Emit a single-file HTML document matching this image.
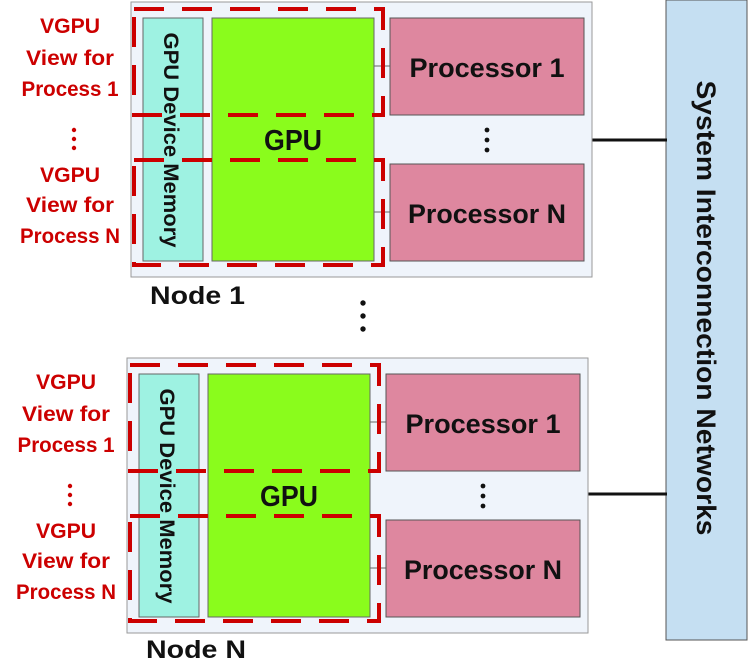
<!DOCTYPE html>
<html><head><style>body{margin:0;background:#fff}</style></head><body>
<svg width="748" height="666" xmlns="http://www.w3.org/2000/svg" font-family="Liberation Sans, sans-serif" font-weight="bold">
<rect x="666" y="0" width="81" height="640" fill="#c5dff2" stroke="#555" stroke-width="1"/>
<text transform="translate(697,308) rotate(90)" text-anchor="middle" font-size="27" fill="#111" textLength="455" lengthAdjust="spacingAndGlyphs">System Interconnection Networks</text>
<line x1="592" y1="140" x2="667" y2="140" stroke="#111" stroke-width="3"/>
<line x1="588" y1="494" x2="667" y2="494" stroke="#111" stroke-width="3"/>
<g id="n1">
<rect x="131" y="2" width="461" height="275" fill="#eff4fb" stroke="#999"/>
<rect x="143" y="18" width="60" height="243" fill="#9ef2e2" stroke="#666"/>
<rect x="212" y="18" width="162" height="243" fill="#8afc1c" stroke="#666"/>
<line x1="374" y1="66" x2="390" y2="66" stroke="#666"/>
<line x1="374" y1="212" x2="390" y2="212" stroke="#666"/>
<rect x="390" y="18" width="194" height="97" fill="#de879f" stroke="#555"/>
<rect x="390" y="164" width="194" height="97" fill="#de879f" stroke="#555"/>
<text x="487" y="77" text-anchor="middle" font-size="27" fill="#111" textLength="155" lengthAdjust="spacingAndGlyphs">Processor 1</text>
<text x="487" y="223" text-anchor="middle" font-size="27" fill="#111" textLength="158" lengthAdjust="spacingAndGlyphs">Processor N</text>
<text x="293" y="150" text-anchor="middle" font-size="29" fill="#111" textLength="58" lengthAdjust="spacingAndGlyphs">GPU</text>
<text transform="translate(164,140) rotate(90)" text-anchor="middle" font-size="21" fill="#111" textLength="215" lengthAdjust="spacingAndGlyphs">GPU Device Memory</text>
<g fill="#111"><circle cx="487" cy="130" r="2.4"/><circle cx="487" cy="140" r="2.4"/><circle cx="487" cy="150" r="2.4"/></g>
<g fill="none" stroke="#cc0000" stroke-width="4" stroke-dasharray="30,18">
<rect x="134" y="9" width="249" height="106"/>
<rect x="134" y="160" width="249" height="105"/>
</g>
<g fill="#cc0000" font-size="21" text-anchor="middle">
<text x="70" y="33" textLength="60" lengthAdjust="spacingAndGlyphs">VGPU</text><text x="70" y="65" textLength="88" lengthAdjust="spacingAndGlyphs">View for</text><text x="70" y="96" textLength="97" lengthAdjust="spacingAndGlyphs">Process 1</text>
<text x="70" y="182" textLength="60" lengthAdjust="spacingAndGlyphs">VGPU</text><text x="70" y="212" textLength="88" lengthAdjust="spacingAndGlyphs">View for</text><text x="70" y="243" textLength="100" lengthAdjust="spacingAndGlyphs">Process N</text>
<circle cx="74" cy="130" r="2.2"/><circle cx="74" cy="139" r="2.2"/><circle cx="74" cy="148" r="2.2"/>
</g>
</g>
<use href="#n1" transform="translate(-4,356)"/>
<text x="150" y="304" font-size="25" fill="#111" textLength="95" lengthAdjust="spacingAndGlyphs">Node 1</text>
<text x="146" y="658" font-size="25" fill="#111" textLength="100" lengthAdjust="spacingAndGlyphs">Node N</text>
<g fill="#111"><circle cx="363" cy="303" r="2.7"/><circle cx="363" cy="316" r="2.7"/><circle cx="363" cy="329" r="2.7"/></g>
</svg>
</body></html>
